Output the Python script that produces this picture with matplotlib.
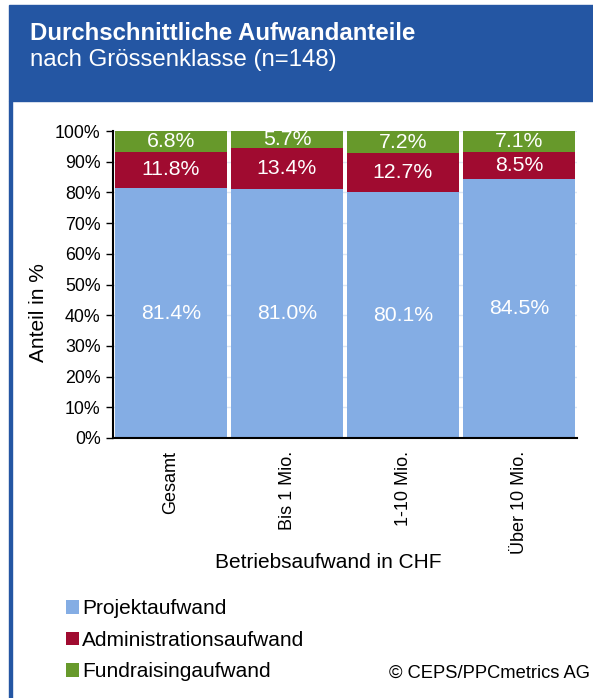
import matplotlib
matplotlib.use("Agg")
import matplotlib.pyplot as plt
from matplotlib.patches import Rectangle
from matplotlib.ticker import PercentFormatter
import numpy as np

plt.rcParams['font.family'] = ['Liberation Sans', 'DejaVu Sans']

# Daten
kategorien = ['Gesamt', 'Bis 1 Mio.', '1-10 Mio.', 'Über 10 Mio.']
projekt = [81.4, 81.0, 80.1, 84.5]
admin = [11.8, 13.4, 12.7, 8.5]
fundraising = [6.8, 5.7, 7.2, 7.1]
serien = ['Projektaufwand', 'Administrationsaufwand', 'Fundraisingaufwand']
farben = ['#84ade4', '#a00b30', '#67992b']

W, H = 593, 698
fig = plt.figure(figsize=(W / 100, H / 100), dpi=100)
fig.patch.set_facecolor('white')

def fx(px):
    return px / W

def fy(py):
    return 1 - py / H

# Kopfzeile und Rahmen
fig.patches.append(Rectangle((fx(9), fy(101)), 1 - fx(9), fy(5) - fy(101),
                             transform=fig.transFigure, color='#2456a3', zorder=0))
fig.patches.append(Rectangle((fx(9), 0), fx(2.5), fy(101),
                             transform=fig.transFigure, color='#2456a3', zorder=0))
fig.text(fx(30), fy(33), 'Durchschnittliche Aufwandanteile', color='white',
         fontsize=17.3, fontweight='bold', va='center', ha='left')
fig.text(fx(30), fy(60), 'nach Grössenklasse (n=148)', color='white',
         fontsize=17.3, va='center', ha='left')

ax = fig.add_axes([fx(113), fy(438), fx(577) - fx(113), fy(131) - fy(438)])
x = np.arange(len(kategorien))
unten = np.zeros(len(kategorien))
for werte, name, farbe in zip([projekt, admin, fundraising], serien, farben):
    bars = ax.bar(x, werte, width=0.96, bottom=unten, color=farbe, label=name, zorder=2)
    for b, v, u in zip(bars, werte, unten):
        ax.text(b.get_x() + b.get_width() / 2, min(u + v / 2, 100 - (100 - u) / 2),
                f'{v:.1f}%', color='white', ha='center', va='center', fontsize=15.3, zorder=3)
    unten += np.array(werte)

ax.set_xlim(-0.5, len(kategorien) - 0.5)
ax.set_ylim(0, 100)
ax.set_yticks(np.arange(0, 101, 10))
ax.yaxis.set_major_formatter(PercentFormatter(decimals=0))
ax.yaxis.grid(True, color='#dce6f4', linewidth=1, zorder=0)
ax.set_axisbelow(True)
ax.set_xticks(x)
ax.set_xticklabels(kategorien, rotation=90, fontsize=13)
ax.tick_params(axis='x', length=0, pad=9)
ax.tick_params(axis='y', length=5, width=1, labelsize=12.8, pad=4)
for s in ['top', 'right']:
    ax.spines[s].set_visible(False)
ax.spines['left'].set_linewidth(1.5)
ax.spines['bottom'].set_linewidth(1.5)

fig.text(fx(38), fy(313), 'Anteil in %', rotation=90, fontsize=15, ha='center', va='center')
fig.text(fx(328), fy(563), 'Betriebsaufwand in CHF', fontsize=15, ha='center', va='center')

leg = fig.legend(loc='upper left', bbox_to_anchor=(fx(58), fy(591)), frameon=False,
                 fontsize=15, handlelength=0.6, handleheight=0.6, handletextpad=0.15,
                 labelspacing=0.6, borderaxespad=0)

fig.text(fx(590), fy(673), '© CEPS/PPCmetrics AG', fontsize=13.2, ha='right', va='center')

fig.savefig('out.png', dpi=100)
